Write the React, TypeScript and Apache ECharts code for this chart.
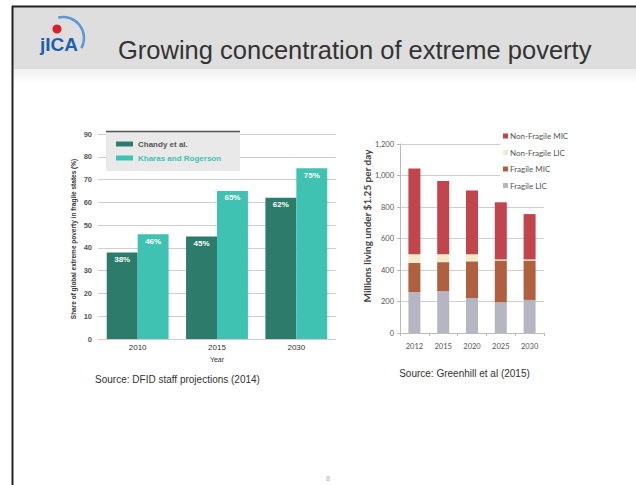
import React, { useEffect, useRef } from "react";
import * as echarts from "echarts";

const leftYears = ["2010", "2015", "2030"];
const chandy = [38, 45, 62];
const kharas = [46, 65, 75];

const rightYears = ["2012", "2015", "2020", "2025", "2030"];
const fragileLIC = [260, 265, 222, 195, 210];
const fragileMIC = [185, 185, 233, 265, 250];
const nonFragileLIC = [55, 50, 45, 7, 7];
const nonFragileMIC = [545, 465, 405, 363, 288];

const FONT = "Liberation Sans, Arial, sans-serif";
const FONT2 = "Lato, sans-serif";

export default function App() {
  const ref = useRef<HTMLDivElement>(null);
  useEffect(() => {
    if (!ref.current) return;
    const chart = echarts.init(ref.current, null, { renderer: "svg" });
    const dark = "#2d7c6b";
    const light = "#3fc2b2";
    chart.setOption({
      animation: false,
      backgroundColor: "#ffffff",
      grid: [
        { left: 98, right: 300, top: 134, bottom: 146 },
        { left: 400, right: 92, top: 144, bottom: 152 },
      ],
      legend: [
        {
          data: [
            { name: "Chandy et al.", textStyle: { color: "#555" } },
            { name: "Kharas and Rogerson", textStyle: { color: light } },
          ],
          left: 116,
          top: 139,
          orient: "vertical",
          itemWidth: 17,
          itemHeight: 5,
          itemGap: 4,
          padding: 0,
          icon: "rect",
          z: 20,
          textStyle: { fontFamily: FONT, fontSize: 8, fontWeight: "bold", lineHeight: 10 },
        },
        {
          data: ["Non-Fragile MIC", "Non-Fragile LIC", "Fragile MIC", "Fragile LIC"],
          left: 500,
          top: 129,
          orient: "vertical",
          itemWidth: 5,
          itemHeight: 5,
          itemGap: 6.5,
          itemStyle: { borderWidth: 0 },
          padding: [2, 4, 2, 3],
          backgroundColor: "#ffffff",
          icon: "rect",
          textStyle: { fontFamily: FONT2, fontSize: 8, color: "#555", lineHeight: 10, padding: [0, 0, 0, -3] },
        },
      ],
      xAxis: [
        {
          type: "category",
          gridIndex: 0,
          data: leftYears,
          axisLine: { show: false },
          axisTick: { show: false },
          axisLabel: { fontFamily: FONT, fontSize: 8, color: "#333", margin: 4 },
          name: "Year",
          nameLocation: "middle",
          nameGap: 17,
          nameTextStyle: { fontFamily: FONT, fontSize: 7, color: "#333" },
        },
        {
          type: "category",
          gridIndex: 1,
          data: rightYears,
          axisLine: { show: true, lineStyle: { color: "#bbb" } },
          axisTick: { show: true, length: 3, lineStyle: { color: "#bbb" } },
          axisLabel: { fontFamily: FONT2, fontSize: 7.5, color: "#555", margin: 9 },
        },
      ],
      yAxis: [
        {
          type: "value",
          gridIndex: 0,
          min: 0,
          max: 90,
          interval: 10,
          axisLine: { show: false },
          axisTick: { show: false },
          axisLabel: { fontFamily: FONT, fontSize: 7.5, color: "#555", fontWeight: "bold", margin: 6 },
          splitLine: { lineStyle: { color: "#cfcfcf", width: 1.2 } },
        },
        {
          type: "value",
          gridIndex: 1,
          min: 0,
          max: 1200,
          interval: 200,
          axisLine: { show: true, lineStyle: { color: "#bbb" } },
          axisTick: { show: true, length: 3, lineStyle: { color: "#bbb" } },
          axisLabel: {
            fontFamily: FONT2,
            fontSize: 7.5,
            color: "#555",
            margin: 6,
            formatter: (v: number) => v.toLocaleString("en-US"),
          },
          splitLine: { lineStyle: { color: "#cfcfcf" } },
        },
      ],
      series: [
        {
          name: "Chandy et al.",
          type: "bar",
          xAxisIndex: 0,
          yAxisIndex: 0,
          data: chandy,
          barGap: "0%",
          barCategoryGap: "22%",
          itemStyle: { color: dark },
          label: {
            show: true,
            position: "insideTop",
            distance: 3,
            formatter: "{c}%",
            color: "#fff",
            fontFamily: FONT,
            fontSize: 8,
            fontWeight: "bold",
          },
        },
        {
          name: "Kharas and Rogerson",
          type: "bar",
          xAxisIndex: 0,
          yAxisIndex: 0,
          data: kharas,
          barGap: "0%",
          barCategoryGap: "22%",
          itemStyle: { color: light },
          label: {
            show: true,
            position: "insideTop",
            distance: 3,
            formatter: "{c}%",
            color: "#fff",
            fontFamily: FONT,
            fontSize: 8,
            fontWeight: "bold",
          },
        },
        {
          name: "Fragile LIC",
          type: "bar",
          stack: "r",
          xAxisIndex: 1,
          yAxisIndex: 1,
          barWidth: 12,
          data: fragileLIC,
          itemStyle: { color: "#b6b6c2" },
        },
        {
          name: "Fragile MIC",
          type: "bar",
          stack: "r",
          xAxisIndex: 1,
          yAxisIndex: 1,
          barWidth: 12,
          data: fragileMIC,
          itemStyle: { color: "#b1603f" },
        },
        {
          name: "Non-Fragile LIC",
          type: "bar",
          stack: "r",
          xAxisIndex: 1,
          yAxisIndex: 1,
          barWidth: 12,
          data: nonFragileLIC,
          itemStyle: { color: "#f1ebcc" },
        },
        {
          name: "Non-Fragile MIC",
          type: "bar",
          stack: "r",
          xAxisIndex: 1,
          yAxisIndex: 1,
          barWidth: 12,
          data: nonFragileMIC,
          itemStyle: { color: "#c2454d" },
        },
      ],
      graphic: [
        {
          type: "rect",
          z: -10,
          shape: { x: 12, y: 6, width: 624, height: 63 },
          style: { fill: "#dedede" },
        },
        {
          type: "rect",
          z: -10,
          shape: { x: 12, y: 69, width: 624, height: 14 },
          style: {
            fill: new echarts.graphic.LinearGradient(0, 0, 0, 1, [
              { offset: 0, color: "#f0f0f0" },
              { offset: 1, color: "#ffffff" },
            ]),
          },
        },
        {
          type: "line",
          z: 50,
          shape: { x1: 12.5, y1: 6, x2: 12.5, y2: 485 },
          style: { stroke: "#222", lineWidth: 2 },
        },
        {
          type: "line",
          z: 50,
          shape: { x1: 12, y1: 6.5, x2: 636, y2: 6.5 },
          style: { stroke: "#222", lineWidth: 2 },
        },
        {
          type: "arc",
          z: 5,
          shape: { cx: 63, cy: 38, r: 21, startAngle: -1.8, endAngle: 0.5 },
          style: { stroke: "#5a9ad6", lineWidth: 2.5, fill: "none" },
        },
        {
          type: "text",
          z: 6,
          x: 40,
          y: 44,
          style: {
            text: "jICA",
            fontFamily: FONT,
            fontSize: 19,
            fontWeight: "bold",
            fill: "#1c5fae",
            textVerticalAlign: "middle",
          },
        },
        {
          type: "circle",
          z: 7,
          shape: { cx: 57, cy: 29, r: 4.5 },
          style: { fill: "#d8202a" },
        },
        {
          type: "text",
          z: 6,
          x: 118,
          y: 50,
          style: {
            text: "Growing concentration of extreme poverty",
            fontFamily: FONT,
            fontSize: 25.5,
            fill: "#333",
            textVerticalAlign: "middle",
          },
        },
        {
          type: "rect",
          z: 10,
          shape: { x: 106, y: 131, width: 134, height: 40 },
          style: { fill: "#e9e9e9" },
        },
        {
          type: "line",
          z: 11,
          shape: { x1: 106, y1: 131.5, x2: 240, y2: 131.5 },
          style: { stroke: "#555", lineWidth: 1.5 },
        },
        {
          type: "text",
          z: 6,
          x: 73,
          y: 239,
          rotation: Math.PI / 2,
          style: {
            text: "Share of global extreme poverty in fragile states (%)",
            fontFamily: FONT,
            fontSize: 6.5,
            fontWeight: "bold",
            fill: "#333",
            textAlign: "center",
            textVerticalAlign: "middle",
          },
        },
        {
          type: "text",
          z: 6,
          x: 367,
          y: 226,
          rotation: Math.PI / 2,
          style: {
            text: "Millions living under $1.25 per day",
            fontFamily: FONT2,
            fontSize: 10,
            fontWeight: "bold",
            fill: "#444",
            textAlign: "center",
            textVerticalAlign: "middle",
          },
        },
        {
          type: "text",
          z: 6,
          x: 177.5,
          y: 379,
          style: {
            text: "Source: DFID staff projections (2014)",
            fontFamily: FONT,
            fontSize: 10,
            fill: "#333",
            textAlign: "center",
            textVerticalAlign: "middle",
          },
        },
        {
          type: "text",
          z: 6,
          x: 464.5,
          y: 373,
          style: {
            text: "Source: Greenhill et al (2015)",
            fontFamily: FONT,
            fontSize: 10,
            fill: "#333",
            textAlign: "center",
            textVerticalAlign: "middle",
          },
        },
        {
          type: "text",
          z: 6,
          x: 328,
          y: 478,
          style: {
            text: "8",
            fontFamily: FONT,
            fontSize: 7,
            fill: "#aaa",
            textAlign: "center",
            textVerticalAlign: "middle",
          },
        },
      ],
    });
    return () => chart.dispose();
  }, []);
  return (
    <div
      ref={ref}
      style={{ position: "fixed", left: 0, top: 0, width: 636, height: 485, background: "#fff" }}
    />
  );
}
